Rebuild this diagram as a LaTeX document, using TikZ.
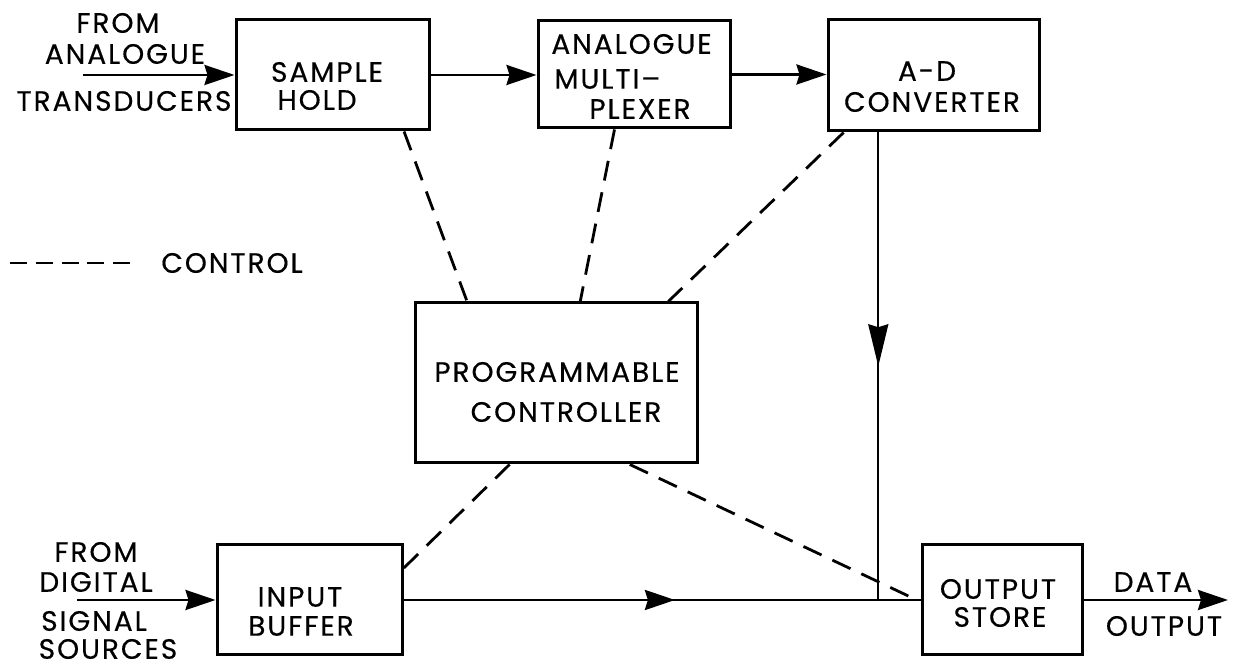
\documentclass[tikz,border=0pt]{standalone}
\usepackage{fontspec}
\setmainfont{Poppins}[LetterSpace=7,FakeBold=0.4]
\usetikzlibrary{arrows.meta,calc,decorations.markings}
\begin{document}
\begin{tikzpicture}[x=0.5pt,y=-0.5pt,
  blk/.style={draw, line width=1.5pt, inner sep=0pt},
  txt/.style={font=\fontsize{14}{16}\selectfont, inner sep=0pt},
  flow/.style={line width=1.4pt},
  ctl/.style={line width=1.4pt, dash pattern=on 10pt off 6pt},
  tip/.style={-{Stealth[length=15pt,width=10pt,inset=1.5pt]}},
  midarrow/.style 2 args={postaction={decorate, decoration={markings,
      mark=at position #1 with {\arrow{Stealth[length=#2,width=10pt,inset=1.5pt]}}}}}]
\useasboundingbox (0,0) rectangle (1244,667);

% blocks
\node[blk, minimum width=96.5pt, minimum height=55pt]  (sh)  at (332.5,75)  {};
\node[blk, minimum width=96pt,   minimum height=53.5pt] (mux) at (634,74.5)  {};
\node[blk, minimum width=105.5pt,minimum height=55.5pt] (ad)  at (933.5,75.5) {};
\node[blk, minimum width=141pt,  minimum height=80pt]  (pc)  at (556,383)   {};
\node[blk, minimum width=92.5pt, minimum height=55pt]  (ib)  at (309.5,600) {};
\node[blk, minimum width=80pt,   minimum height=55pt]  (os)  at (1002,600)  {};

% block texts
\node[txt] (t1) at (327,72)  {SAMPLE};
\node[txt] (t2) at (317,100) {HOLD};
\node[txt, anchor=west] (t3) at (551,44)  {ANALOGUE};
\node[txt, anchor=west] (t4) at (554,79)  {MULTI--};
\node[txt, anchor=west] (t5) at (589,109) {PLEXER};
\node[txt] (t6) at (927,71)  {A-D};
\node[txt] (t7) at (932,102) {CONVERTER};
\node[txt] (t8) at (557,372) {PROGRAMMABLE};
\node[txt] (t9) at (566,412) {CONTROLLER};
\node[txt] (t10) at (300,597) {INPUT};
\node[txt] (t11) at (301,626) {BUFFER};
\node[txt] (t12) at (998,589) {OUTPUT};
\node[txt] (t13) at (1000,617) {STORE};

% outer labels
\node[txt] (l1) at (118,23)  {FROM};
\node[txt] (l2) at (125,54)  {ANALOGUE};
\node[txt] (l3) at (124,101) {TRANSDUCERS};
\node[txt] (l4) at (96,552)  {FROM};
\node[txt] (l5) at (96,582)  {DIGITAL};
\node[txt] (l6) at (94,621)  {SIGNAL};
\node[txt] (l7) at (108,649) {SOURCES};
\node[txt] (l8) at (1153,582) {DATA};
\node[txt] (l9) at (1164,626) {OUTPUT};

% legend
\coordinate (lg1) at (10,263);
\coordinate (lg2) at (130,263);
\draw[line width=1.4pt, dash pattern=on 8.5pt off 4.4pt] (lg1) -- (lg2);
\node[txt] (lgt) at (232,263) {CONTROL};

% signal paths
\coordinate (ina) at (83,75);
\coordinate (ind) at (77,600);
\coordinate (dout) at (1228,600);
\draw[flow, tip] (ina) -- (ina -| sh.west);
\draw[flow, tip] (sh.east) -- (sh.east -| mux.west);
\draw[flow, tip] (mux.east) -- (mux.east -| ad.west);
\draw[flow, tip] (ind) -- (ib.west);
\draw[flow, tip] (os.east) -- (dout);
\draw[flow, midarrow={0.525}{15pt}] (ib.east) -- (os.west);
\coordinate (adout) at ($(ad.south west)!0.242!(ad.south east)$);
\coordinate (join) at (adout |- os.west);
\draw[line width=1.1pt, midarrow={0.5}{21pt}] (adout) -- (join);

% control lines
\draw[ctl] ($(sh.south west)!0.865!(sh.south east)$) -- ($(pc.north west)!0.188!(pc.north east)$);
\draw[ctl] ($(mux.south west)!0.40!(mux.south east)$) -- ($(pc.north west)!0.585!(pc.north east)$);
\draw[ctl] ($(ad.south west)!0.08!(ad.south east)$) -- ($(pc.north west)!0.894!(pc.north east)$);
\draw[ctl] ($(pc.south west)!0.337!(pc.south east)$) -- ($(ib.north east)!0.22!(ib.south east)$);
\draw[ctl] ($(pc.south west)!0.759!(pc.south east)$) -- ($(os.west)+(-10,-3)$);
\end{tikzpicture}
\end{document}
